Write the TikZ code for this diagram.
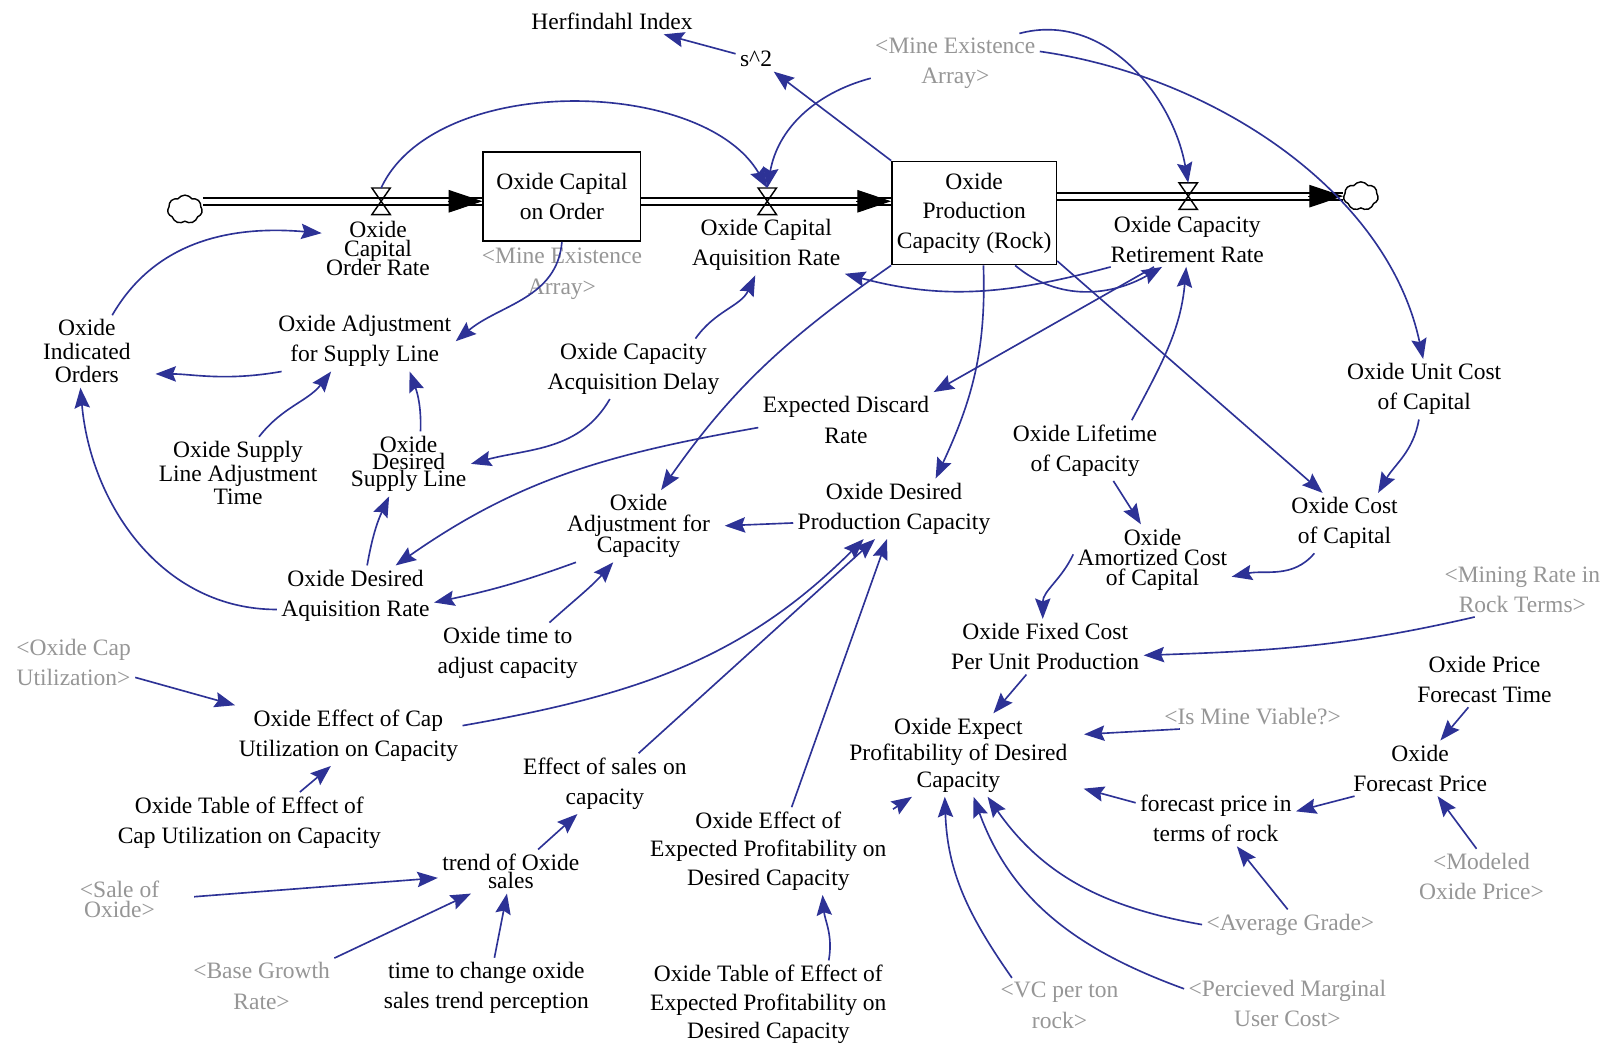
\documentclass[tikz,border=0pt]{standalone}
\usepackage{fontspec}
\setmainfont{Liberation Serif}
\usetikzlibrary{arrows.meta,shapes.symbols,calc}
\definecolor{linkc}{RGB}{45,50,150}
\definecolor{greyt}{RGB}{150,150,150}
\begin{document}
\begin{tikzpicture}[x=0.5pt,y=-0.5pt,
  lbl/.style={align=center,inner sep=2pt,font={\fontsize{11.5}{#1}\selectfont\lineskiplimit=-100pt\relax}},
  lbl/.default=14.75,
  shadowvar/.style={text=greyt},
  stockbox/.style={draw,line width=0.8pt,align=center,inner sep=2pt,font={\fontsize{11.5}{14.5}\selectfont}},
  link/.style={draw=linkc,line width=0.8pt,-{Stealth[length=10pt,width=7.5pt,inset=1.5pt]}},
  pipe/.style={draw=black,line width=1pt,double=white,double distance=2.5pt},
  pipetip/.style={draw=black,line width=0.5pt,-{Triangle[length=16.5pt,width=11pt]}},
  valve/.style={draw=black,line width=0.7pt},
  cloudsym/.style={cloud,draw,cloud puffs=7,cloud puff arc=110,aspect=1.15,minimum width=17pt,minimum height=14pt,inner sep=0pt,line width=0.7pt}
]
\fill[white] (0,0) rectangle (1568,1026);
\useasboundingbox (0,0) rectangle (1568,1026);

% stocks, clouds, valves
\node[stockbox,minimum width=77pt,minimum height=43.5pt] (coo) at (550,192.5) {Oxide Capital\\on Order};
\node[stockbox,minimum width=80.5pt,minimum height=50.5pt] (opc) at (953.5,208.5) {Oxide\\Production\\Capacity (Rock)};
\node[cloudsym] (cloudL) at (181,205) {};
\node[cloudsym] (cloudR) at (1332,192) {};
\coordinate (v1) at (373,197);
\coordinate (v2) at (751,197);
\coordinate (v3) at (1163,192);
\coordinate (v1t) at (373,184);
\coordinate (v2t) at (751,184);
\coordinate (v3t) at (1163,179);

\draw[pipe] (cloudL.east |- v1) -- (v1) -- (coo.west |- v1);
\draw[pipetip] ($(coo.west |- v1)+(-34,0)$) -- (coo.west |- v1);
\draw[pipe] (coo.east |- v2) -- (v2) -- (opc.west |- v2);
\draw[pipetip] ($(opc.west |- v2)+(-34,0)$) -- (opc.west |- v2);
\draw[pipe] (opc.east |- v3) -- (v3) -- (cloudR.west |- v3);
\draw[pipetip] ($(cloudR.west |- v3)+(-34,0)$) -- (cloudR.west |- v3);
\foreach \v in {v1,v2,v3}{\draw[valve] (\v) ++(-9,-13) -- ++(18,0) -- ++(-18,26) -- ++(18,0) -- cycle;}

% labels
\node[lbl=9.25] (ocor) at (370,243) {Oxide\\Capital\\Order Rate};
\node[lbl] (ocar) at (750,240) {Oxide Capital\\Aquisition Rate};
\node[lbl] (ocrr) at (1162,234) {Oxide Capacity\\Retirement Rate};
\node[lbl] (hi) at (599,21) {Herfindahl Index};
\node[lbl] (s2) at (740,58) {s\textasciicircum 2};
\node[lbl,shadowvar] (meaT) at (935,62) {<Mine Existence\\Array>};
\node[lbl,shadowvar] (meaM) at (550,268) {<Mine Existence\\Array>};
\node[lbl=11.5] (oio) at (85,344) {Oxide\\Indicated\\Orders};
\node[lbl] (oasl) at (357,334) {Oxide Adjustment\\for Supply Line};
\node[lbl=11.5] (oslat) at (233,463) {Oxide Supply\\Line Adjustment\\Time};
\node[lbl=8.5] (odsl) at (400,454) {Oxide\\Desired\\Supply Line};
\node[lbl] (ocad) at (620,361) {Oxide Capacity\\Acquisition Delay};
\node[lbl] (edr) at (828,411) {Expected Discard\\Rate};
\node[lbl=10.25] (oac) at (625,515) {Oxide\\Adjustment for\\Capacity};
\node[lbl] (odpc) at (875,498) {Oxide Desired\\Production Capacity};
\node[lbl] (olc) at (1062,441) {Oxide Lifetime\\of Capacity};
\node[lbl] (oucc) at (1394,381) {Oxide Unit Cost\\of Capital};
\node[lbl] (occ) at (1316,512) {Oxide Cost\\of Capital};
\node[lbl=10] (oacc) at (1128,548) {Oxide\\Amortized Cost\\of Capital};
\node[lbl,shadowvar] (mrr) at (1490,577) {<Mining Rate in\\Rock Terms>};
\node[lbl] (ofc) at (1023,633) {Oxide Fixed Cost\\Per Unit Production};
\node[lbl] (opft) at (1453,665) {Oxide Price\\Forecast Time};
\node[lbl,shadowvar] (imv) at (1226,701) {<Is Mine Viable?>};
\node[lbl=13] (oep) at (938,739) {Oxide Expect\\Profitability of Desired\\Capacity};
\node[lbl] (ofp) at (1390,752) {Oxide\\Forecast Price};
\node[lbl] (fpr) at (1190,801) {forecast price in\\terms of rock};
\node[lbl,shadowvar] (mop) at (1450,858) {<Modeled\\Oxide Price>};
\node[lbl,shadowvar] (ag) at (1263,905) {<Average Grade>};
\node[lbl,shadowvar] (vc) at (1037,984) {<VC per ton\\rock>};
\node[lbl,shadowvar] (pmuc) at (1260,982) {<Percieved Marginal\\User Cost>};
\node[lbl] (odar) at (348,583) {Oxide Desired\\Aquisition Rate};
\node[lbl] (otac) at (497,639) {Oxide time to\\adjust capacity};
\node[lbl,shadowvar] (ocu) at (72,648) {<Oxide Cap\\Utilization>};
\node[lbl] (oecu) at (341,720) {Oxide Effect of Cap\\Utilization on Capacity};
\node[lbl] (esc) at (592,767) {Effect of sales on\\capacity};
\node[lbl] (otcu) at (244,805) {Oxide Table of Effect of\\Cap Utilization on Capacity};
\node[lbl=14] (oeep) at (752,833) {Oxide Effect of\\Expected Profitability on\\Desired Capacity};
\node[lbl=9] (tos) at (500,853) {trend of Oxide\\sales};
\node[lbl=10,shadowvar] (so) at (117,880) {<Sale of\\Oxide>};
\node[lbl,shadowvar] (bgr) at (256,965) {<Base Growth\\Rate>};
\node[lbl] (tcs) at (476,967) {time to change oxide\\sales trend perception};
\node[lbl=14] (otep) at (752,983) {Oxide Table of Effect of\\Expected Profitability on\\Desired Capacity};
\coordinate (lt) at (874,792);

% links
\draw[link] (v1t) to[out=65,in=120,looseness=0.85] (v2t);
\draw[link] (meaT.190) to[out=195,in=80] (v2t);
\draw[link] (opc.north west) -- (s2.-35);
\draw[link] (s2.165) -- (hi.-14);
\draw[link] (meaT.25) to[out=15,in=100] (v3t);
\draw[link] (meaT.8) to[out=-8,in=102,looseness=0.9] (oucc.92);
\draw[link] (coo.south) to[out=-95,in=40] (oasl.east);
\draw[link] (oio.55) to[out=60,in=175] (ocor.165);
\draw[link,shorten >=10pt] (oasl.200) to[out=190,in=0] (oio.-25);
\draw[link] (oslat.60) to[out=52,in=-128] (oasl.222);
\draw[link] (odsl.70) to[out=88,in=-70] (oasl.-34);
\draw[link] (ocad.-128) to[out=-120,in=15] (odsl.east);
\draw[link] (ocad.26) to[out=55,in=-115] (ocar.-110);
\draw[link] (odar.69) to[out=80,in=-115] (odsl.-121);
\draw[link] (odar.190) to[out=180,in=-85] (oio.-100);
\draw[link] (edr.185) to[out=190,in=35] (odar.37);
\draw[link] (oac.210) to[out=200,in=12] (odar.-5);
\draw[link] (otac.36) to[out=42,in=-132] (oac.-125);
\draw[link,shorten >=5pt] (odpc.188) -- (oac.east);
\draw[link] (opc.south west) to[out=-145,in=55] (oac.58);
\draw[link] (ocrr.200) to[out=-165,in=-15] (ocar.-20);
\draw[link] (opc.-52) to[out=-40,in=-150] (ocrr.-132);
\draw[link] (ocrr.-140) -- (edr.north east);
\draw[link] (opc.-80) to[out=-88,in=65] (odpc.36);
\draw[link] (opc.-30) -- (occ.126);
\draw[link] (olc.33) to[out=62,in=-95] (ocrr.-92);
\draw[link] (olc.-47) -- (oacc.108);
\draw[link] (oucc.-100) to[out=-100,in=60] (occ.42);
\draw[link] (occ.-135) to[out=-130,in=12] (oacc.-12);
\draw[link] (oacc.176) to[out=-115,in=90] (ofc.95);
\draw[link] (mrr.-150) to[out=193,in=2] (ofc.-5);
\draw[link] (ofc.-124) -- (oep.50);
\draw[link,shorten >=6pt] (imv.190) -- (oep.10);
\draw[link,shorten >=6pt] (fpr.169) -- (oep.-15);
\draw[link] (ofp.203) -- (fpr.5);
\draw[link] (opft.-120) -- (ofp.54);
\draw[link] (mop.100) -- (ofp.-58);
\draw[link] (ag.100) -- (fpr.-53);
\draw[link] (ag.west) to[out=170,in=-55] (oep.-55);
\draw[link] (pmuc.172) to[out=160,in=-70] (oep.-70);
\draw[link] (vc.150) to[out=125,in=-88] (oep.-108);
\draw[link] (lt) -- (oep.-138);
\draw[link] (oeep.62) -- (odpc.-103);
\draw[link] (esc.42) -- (odpc.-122);
\draw[link] (oecu.5) to[out=10,in=-135] (odpc.-135);
\draw[link] (ocu.-14) -- (oecu.165);
\draw[link] (otcu.31) -- (oecu.-120);
\draw[link] (tos.39) -- (esc.-132);
\draw[link,shorten <=15pt] (so.0) -- (tos.185);
\draw[link] (bgr.north east) -- (tos.-151);
\draw[link] (tcs.75) -- (tos.-100);
\draw[link] (otep.36) to[out=80,in=-85] (oeep.-39);
\end{tikzpicture}
\end{document}
